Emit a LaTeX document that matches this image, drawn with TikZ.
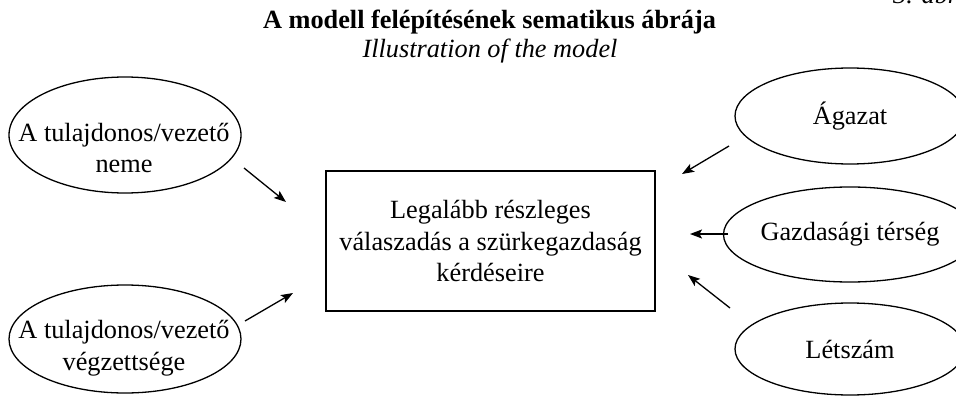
\documentclass[tikz,border=0pt]{standalone}
\usepackage{fontspec}
\setmainfont{Liberation Serif}
\usetikzlibrary{shapes.geometric,arrows.meta}
\begin{document}
\begin{tikzpicture}[x=1pt,y=-1pt,
  body/.style={font=\fontsize{26.3}{31.5}\selectfont, inner sep=0pt, align=center},
  oval/.style={draw, ellipse, line width=1.3pt, inner sep=0pt, font=\fontsize{26.3}{31.5}\selectfont},
  box/.style={draw, line width=1.4pt, minimum width=329pt, minimum height=140pt, inner sep=0pt},
  arr/.style={-{Stealth[length=12pt,width=9pt,inset=2.5pt]}, line width=1.3pt}]
\useasboundingbox (0,0) rectangle (956,396);

% titles
\node[font=\bfseries\fontsize{26.3}{31.5}\selectfont, anchor=base, inner sep=0pt] (title) at (489.5,29) {A modell felépítésének sematikus ábrája};
\node[font=\itshape\fontsize{26.3}{31.5}\selectfont, anchor=base, inner sep=0pt] (sub) at (490,58) {Illustration of the model};
\node[font=\itshape\fontsize{26.3}{31.5}\selectfont, anchor=base west, inner sep=0pt] (fig) at (893,4) {3. ábra};

% central box
\node[box] (center) at (490.5,241) {};
\node[body] (centertext) at (490.5,241) {Legalább részleges\\válaszadás a szürkegazdaság\\kérdéseire};

% left ellipses
\node[oval, minimum width=232pt, minimum height=116pt] (gender) at (125,135) {};
\node[body] (gendertext) at (124,148) {A tulajdonos/vezető\\neme};
\node[oval, minimum width=232pt, minimum height=108pt] (edu) at (125,339) {};
\node[body] (edutext) at (124,348) {A tulajdonos/vezető\\végzettsége};

% right ellipses
\node[oval, minimum width=230pt, minimum height=96pt] (sector) at (850,116) {Ágazat};
\node[oval, minimum width=230pt, minimum height=95pt] (region) at (850,234.5) {Gazdasági térség};
\node[oval, minimum width=230pt, minimum height=92pt] (staff) at (850,349) {Létszám};

% arrow end points
\coordinate (a1s) at (244,168); \coordinate (a1e) at (286,202);
\coordinate (a2s) at (245,321); \coordinate (a2e) at (293,293);
\coordinate (a3s) at (729,146); \coordinate (a3e) at (682,174);
\coordinate (a4s) at (728,234); \coordinate (a4e) at (690,234);
\coordinate (a5s) at (730,308); \coordinate (a5e) at (688,275);

\draw[arr] (a1s) -- (a1e);
\draw[arr] (a2s) -- (a2e);
\draw[arr] (a3s) -- (a3e);
\draw[arr] (a4s) -- (a4e);
\draw[arr] (a5s) -- (a5e);
\end{tikzpicture}
\end{document}
